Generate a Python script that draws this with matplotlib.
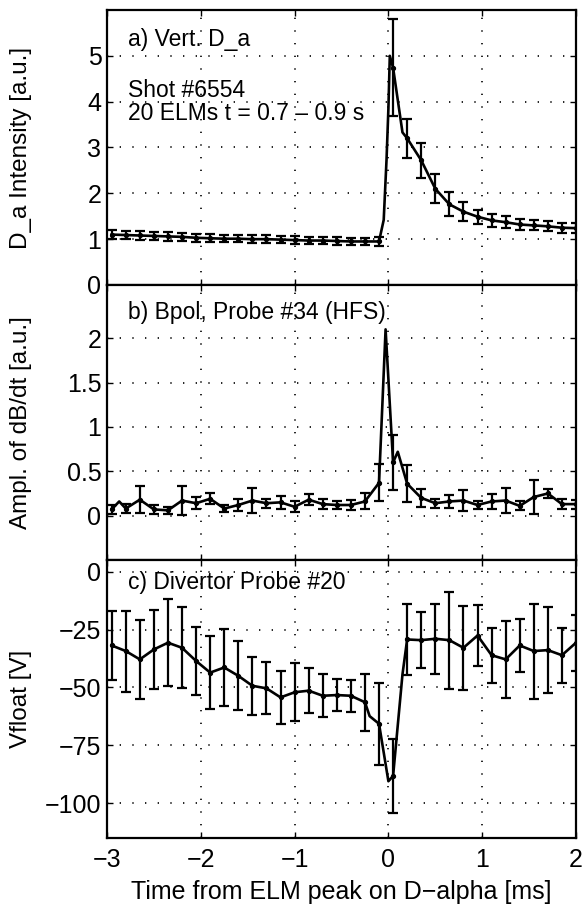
"""
ELM-averaged signals: D_a intensity, Bpol dB/dt amplitude and divertor
floating potential vs time from the ELM peak, three stacked panels.
"""
import numpy as np
import matplotlib
matplotlib.use("Agg")
import matplotlib.pyplot as plt

plt.rcParams["font.family"] = ["Liberation Sans", "DejaVu Sans"]

# error-bar sample times [ms]
t = [-2.95, -2.80, -2.65, -2.50, -2.35, -2.20, -2.05, -1.90, -1.75, -1.60,
     -1.45, -1.30, -1.15, -1.00, -0.85, -0.70, -0.55, -0.40, -0.25, -0.10,
     0.05, 0.20, 0.35, 0.50, 0.65, 0.80, 0.95, 1.10, 1.25, 1.40,
     1.55, 1.70, 1.85, 2.00]

# a) vertical D_a intensity [a.u.]
da = [1.10, 1.09, 1.08, 1.07, 1.06, 1.05, 1.03, 1.02, 1.01, 1.01,
      1.00, 1.00, 0.99, 0.98, 0.97, 0.97, 0.96, 0.95, 0.95, 0.95,
      4.74, 3.20, 2.72, 2.10, 1.76, 1.60, 1.49, 1.41, 1.37, 1.32,
      1.30, 1.28, 1.25, 1.24]
da_err = [0.09, 0.09, 0.09, 0.09, 0.09, 0.09, 0.09, 0.09, 0.08, 0.08,
          0.08, 0.08, 0.08, 0.08, 0.08, 0.08, 0.08, 0.08, 0.08, 0.09,
          1.06, 0.43, 0.38, 0.32, 0.26, 0.20, 0.15, 0.14, 0.13, 0.12,
          0.11, 0.11, 0.11, 0.11]
# extra trace samples around the ELM rise
da_xt = [-0.05, -0.02, 0.00, 0.015, 0.15]
da_xv = [1.42, 2.73, 3.85, 5.00, 3.33]

# b) Bpol probe #34 (HFS), amplitude of dB/dt [a.u.]
bp = [0.07, 0.08, 0.18, 0.07, 0.06, 0.17, 0.14, 0.19, 0.08, 0.12,
      0.17, 0.14, 0.15, 0.10, 0.18, 0.13, 0.12, 0.12, 0.16, 0.37,
      0.60, 0.36, 0.20, 0.14, 0.16, 0.17, 0.12, 0.16, 0.17, 0.11,
      0.21, 0.25, 0.13, 0.13]
bp_err = [0.05, 0.05, 0.15, 0.05, 0.04, 0.16, 0.07, 0.06, 0.04, 0.07,
          0.14, 0.05, 0.07, 0.06, 0.06, 0.06, 0.05, 0.06, 0.09, 0.21,
          0.31, 0.21, 0.10, 0.05, 0.07, 0.12, 0.05, 0.08, 0.14, 0.05,
          0.19, 0.05, 0.06, 0.05]
bp_xt = [-2.87, -0.03, 0.10]
bp_xv = [0.16, 2.10, 0.72]

# c) divertor probe #20, floating potential [V]
vf = [-31.9, -34.3, -37.9, -33.6, -30.7, -32.9, -38.6, -43.6, -41.4, -45.0,
      -49.3, -50.4, -54.3, -52.1, -51.4, -53.6, -53.3, -53.6, -56.4, -65.7,
      -88.2, -29.3, -29.6, -29.0, -29.6, -32.9, -27.6, -36.1, -37.9, -31.9,
      -34.3, -33.9, -36.1, -30.7]
vf_err = [15.0, 17.5, 17.2, 17.2, 18.9, 17.4, 14.5, 15.6, 16.7, 14.9,
          12.6, 11.2, 11.3, 12.6, 9.6, 9.3, 7.0, 6.8, 12.3, 17.7,
          16.1, 15.4, 12.1, 15.0, 20.9, 18.2, 13.1, 11.9, 16.6, 11.5,
          20.5, 18.6, 11.8, 12.0]
vf_xt = [-0.20, 0.00, 0.15]
vf_xv = [-62.4, -90.5, -44.4]

FIG_W, FIG_H = 587, 911
LEFT, RIGHT = 107, 576
TICK_FS = 18
LABEL_FS = 17.5
NOTE_FS = 16.5


def _panel(fig, top, bottom, y, err, xt, xv, ylim, yticks, yticklabels,
           ylabel, label, label_y):
    ax = fig.add_axes([LEFT / FIG_W, 1 - bottom / FIG_H,
                       (RIGHT - LEFT) / FIG_W, (bottom - top) / FIG_H])
    tt = np.concatenate([t, xt])
    yy = np.concatenate([y, xv])
    order = np.argsort(tt)
    ax.plot(tt[order], yy[order], color="black", lw=1.9, zorder=3)
    ax.errorbar(t, y, yerr=err, fmt="o", ms=2.8, color="black",
                ecolor="black", elinewidth=1.6, capsize=3.8, capthick=1.6,
                zorder=4)
    ax.set_xlim(-3, 2)
    ax.set_ylim(*ylim)
    ax.set_xticks([-3, -2, -1, 0, 1, 2])
    ax.set_yticks(yticks)
    ax.set_yticklabels(yticklabels)
    ax.grid(True, color="black", lw=1.2, ls=(0, (0.8, 6.8)))
    ax.tick_params(direction="in", length=4, width=1, top=True, right=True,
                   labelsize=TICK_FS, pad=4)
    ax.tick_params(axis="x", pad=7)
    for s in ax.spines.values():
        s.set_linewidth(1.6)
    ax.set_ylabel(ylabel, fontsize=LABEL_FS)
    ax.yaxis.set_label_coords(-0.16, 0.5)
    ax.text(0.045, label_y, label, transform=ax.transAxes, ha="left",
            va="top", fontsize=NOTE_FS)
    return ax


fig = plt.figure(figsize=(FIG_W / 100, FIG_H / 100), dpi=100)

ax_a = _panel(fig, 10, 285, da, da_err, da_xt, da_xv, (0, 6),
              [0, 1, 2, 3, 4, 5], ["0", "1", "2", "3", "4", "5"],
              "D_a Intensity [a.u.]", "a) Vert. D_a", 0.935)
ax_a.text(0.045, 0.75, "Shot #6554\n20 ELMs t = 0.7 \u2013 0.9 s",
          transform=ax_a.transAxes, ha="left", va="top", fontsize=NOTE_FS,
          linespacing=1.02)

ax_b = _panel(fig, 285, 560, bp, bp_err, bp_xt, bp_xv, (-0.5, 2.6),
              [0, 0.5, 1, 1.5, 2], ["0", "0.5", "1", "1.5", "2"],
              "Ampl. of dB/dt [a.u.]", "b) Bpol, Probe #34 (HFS)", 0.94)

ax_c = _panel(fig, 560, 838, vf, vf_err, vf_xt, vf_xv, (-115, 5),
              [-100, -75, -50, -25, 0],
              ["\u2212100", "\u221275", "\u221250", "\u221225", "0"],
              "Vfloat [V]", "c) Divertor Probe #20", 0.96)

for ax in (ax_a, ax_b):
    ax.tick_params(labelbottom=False)
ax_c.set_xticklabels(["\u22123", "\u22122", "\u22121", "0", "1", "2"])
ax_c.set_xlabel("Time from ELM peak on D\u2212alpha [ms]", fontsize=18,
                labelpad=6)

fig.savefig("out.png", dpi=100)
